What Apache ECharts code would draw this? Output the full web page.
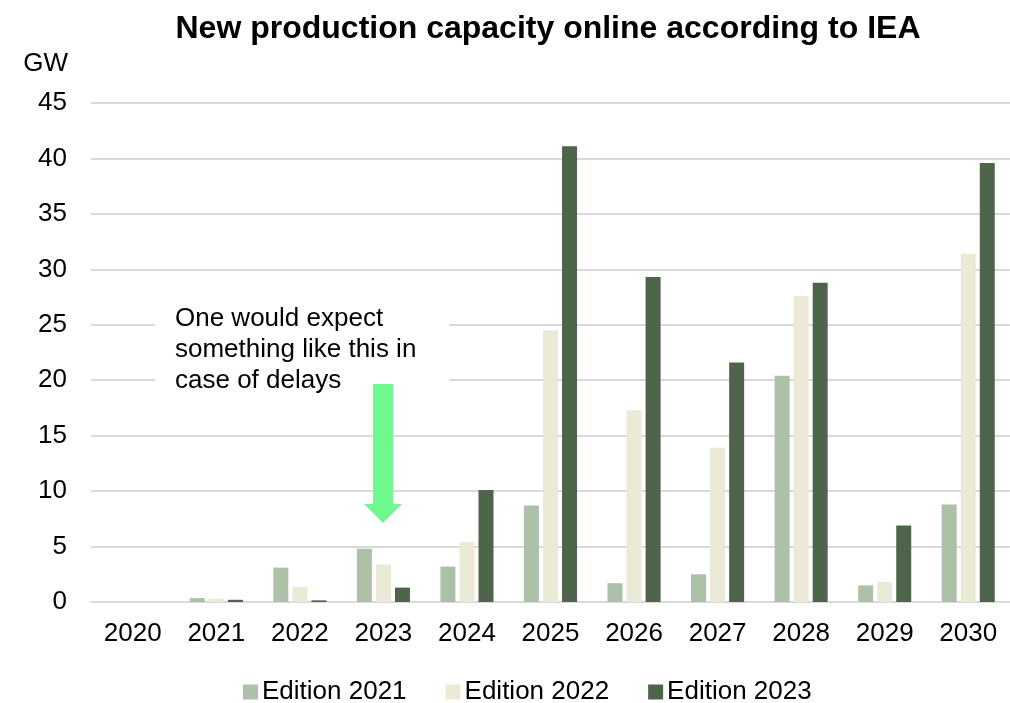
<!DOCTYPE html>
<html><head><meta charset="utf-8">
<script src="https://cdn.jsdelivr.net/npm/echarts@6/dist/echarts.min.js"></script>
<style>html,body{margin:0;padding:0;background:#fff}#c{width:1010px;height:703px}</style>
</head><body><div id="c"></div>
<script>
const years = ['2020','2021','2022','2023','2024','2025','2026','2027','2028','2029','2030'];
const edition2021 = [0, 0.35, 3.1, 4.8, 3.2, 8.7, 1.7, 2.5, 20.4, 1.5, 8.8];
const edition2022 = [0, 0.3, 1.35, 3.4, 5.4, 24.5, 17.3, 13.9, 27.6, 1.8, 31.4];
const edition2023 = [0, 0.2, 0.15, 1.3, 10.1, 41.1, 29.3, 21.6, 28.8, 6.9, 39.6];
const seriesNames = ['Edition 2021','Edition 2022','Edition 2023'];
const colors = ['#adc0a8','#ebead6','#4f654b'];
const font = '"Liberation Sans", Arial, sans-serif';

const chart = echarts.init(document.getElementById('c'), null, {renderer:'canvas'});
const mk = (name, data, color) => ({
  name, type:'bar', data, barWidth:15, barGap:'27%',
  itemStyle:{color}
});
chart.setOption({
  animation:false,
  textStyle:{fontFamily:font},
  title:{text:'New production capacity online according to IEA', left:543, top:8, textAlign:'center',
    textStyle:{fontFamily:font, fontSize:32, fontWeight:'bold', color:'#000'}},
  legend:{top:674, left:238, itemWidth:15, itemHeight:15, itemGap:39, icon:'rect',
    textStyle:{fontFamily:font, fontSize:26, color:'#000', padding:[0,0,0,-1]}},
  grid:{left:91, right:0, top:103, bottom:101},
  xAxis:{type:'category', data:years,
    axisLine:{lineStyle:{color:'#d9d9d9', width:2}}, axisTick:{show:false},
    axisLabel:{fontFamily:font, fontSize:26, color:'#000', margin:19}},
  yAxis:{type:'value', min:0, max:45, interval:5, name:'GW',
    nameLocation:'end', nameGap:26, nameTextStyle:{fontFamily:font, fontSize:26, color:'#000', align:'right', padding:[0,23,0,0]},
    axisLine:{show:false}, axisTick:{show:false},
    splitLine:{lineStyle:{color:'#d9d9d9', width:2}},
    axisLabel:{fontFamily:font, fontSize:26, color:'#000', margin:24}},
  series:[mk(seriesNames[0], edition2021, colors[0]), mk(seriesNames[1], edition2022, colors[1]), mk(seriesNames[2], edition2023, colors[2])],
  graphic:[
    {type:'text', left:155, top:303, z:10,
      style:{text:'One would expect\nsomething like this in\ncase of delays', fontFamily:font, fontSize:26, lineHeight:31,
        fill:'#000', backgroundColor:'#fff', padding:[0,33,0,20]}},
    {type:'polygon', z:10, shape:{points:[[373,384],[393,384],[393,504],[402,504],[383,523],[364,504],[373,504]]},
      style:{fill:'#6ef98f'}}
  ]
});
</script></body></html>
